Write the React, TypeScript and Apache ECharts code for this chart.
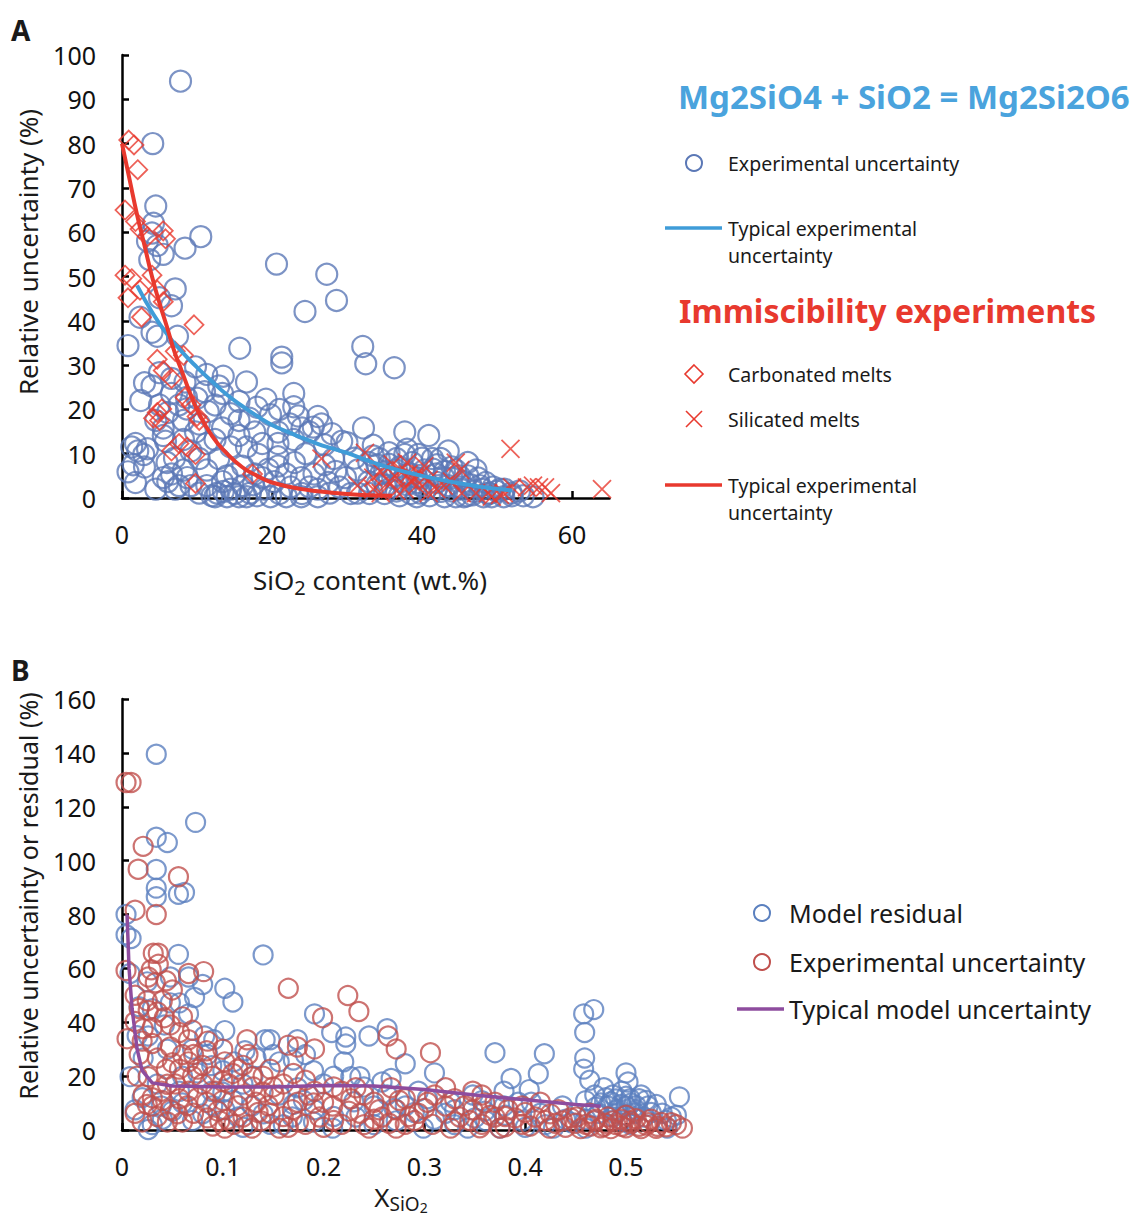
import React, { useEffect, useRef } from "react";
import * as echarts from "echarts";

// ---------- Panel A data ----------
const aExpUncertainty: number[][] = [
  [7.8, 94.1], [4.1, 80], [4.5, 65.9], [4.2, 62], [4.0, 59.8], [3.4, 58], [4.7, 57], [5.5, 55], [3.7, 53.8],
  [8.4, 56.4], [10.5, 59], [20.6, 52.8], [27.3, 50.5], [28.6, 44.6], [24.4, 42.1], [7.1, 47.2], [6.6, 43.4],
  [5.0, 45.2], [0.8, 34.4], [2.4, 40.8], [4.0, 37.4], [4.7, 36.5], [7.4, 36.5], [15.7, 33.8], [21.3, 31.8],
  [21.3, 30.5], [32.1, 34.2], [32.5, 30.3], [36.3, 29.4], [4.0, 25.3], [5.0, 28.3], [6.6, 27.0], [8.4, 26.2],
  [9.8, 29.6], [11.3, 27.9], [12.9, 25.3], [13.4, 23.6], [15.6, 21.8], [16.6, 26.2], [19.2, 22.3], [19.8, 18.8],
  [22.9, 23.6], [22.9, 20.6], [26.1, 18.4], [26.6, 16.7], [24.0, 15.8], [25.0, 14.9], [22.9, 13.2], [20.8, 12.3],
  [17.7, 14.9], [15.6, 14.1], [13.4, 15.8], [10.3, 16.7], [8.2, 17.5], [5.5, 15.8], [5.5, 14.1], [5.0, 21],
  [6.1, 19.3], [1.8, 12.3], [1.3, 11.5], [2.1, 10.6], [2.9, 9.8], [3.4, 11.1], [0.8, 5.9], [1.8, 3.5], [4.5, 2.0],
  [5.5, 4.6], [6.1, 3.7], [7.6, 2.8], [8.7, 4.6], [11.3, 6.3], [12.9, 8.9], [13.4, 3.7], [12.7, 1.1], [14.5, 2.0],
  [16.1, 2.8], [17.1, 1.1], [18.7, 4.6], [20.3, 3.7], [20.8, 7.2], [18.2, 9.8], [20.8, 9.3], [21.9, 5.4],
  [23.9, 4.6], [25.6, 5.4], [26.1, 2.0], [27.7, 1.1], [28.2, 8.9], [29.3, 12.8], [29.8, 4.6], [31.4, 6.3],
  [31.4, 1.1], [32.2, 15.8], [33.5, 11.9], [34.3, 8.9], [35.6, 7.6], [36.6, 6.3], [37.2, 3.7], [37.7, 14.9],
  [38.7, 8.0], [39.3, 4.6], [39.8, 1.1], [40.9, 14.1], [41.4, 8.9], [41.9, 5.4], [43.5, 10.6], [43.5, 2.8],
  [44.5, 6.3], [45.6, 3.7], [46.1, 8.0], [47.2, 6.3], [47.7, 2.8], [48.8, 1.1], [50.4, 2.0], [51.9, 1.1],
  [53.0, 1.6], [54.8, 0.3], [44.5, 0.3], [45.6, 0.3], [46.7, 0.7], [48.2, 0.3], [49.3, 0.3], [50.9, 0.3],
  [44.0, 1.6], [45.1, 2.0], [42.9, 4.6], [46.1, 5.0], [41.9, 2.0], [39.8, 2.8], [40.3, 6.3], [38.2, 5.4],
  [36.1, 4.6], [35.1, 2.8], [34.5, 5.4], [36.6, 1.6], [39.3, 0.3], [32.9, 3.7], [32.9, 8.0], [35.6, 10.2],
  [36.6, 8.9], [37.7, 9.8], [39.5, 9.8], [42.5, 8.9], [12.4, 0.3], [14.0, 0.3], [15.6, 0.3], [16.6, 0.3],
  [19.8, 0.3], [21.9, 0.3], [23.9, 0.3], [26.1, 0.3], [15.0, 5.4], [16.1, 7.2], [17.7, 5.4], [11.3, 2.8],
  [10.3, 1.1], [9.2, 2.8], [7.1, 2.0], [8.2, 6.3], [6.6, 5.4], [10.3, 8.9], [9.2, 10.6], [11.3, 12.3],
  [12.4, 13.2], [14.5, 11.5], [16.6, 11.5], [18.7, 12.3], [20.8, 14.9], [22.4, 16.7], [15.6, 17.5], [12.4, 21],
  [8.6, 22.7], [7.6, 21], [8.6, 20.1], [6.6, 23.6], [4.5, 17.5], [5.8, 12.8], [8.2, 13.2], [9.8, 14.9],
  [34, 3], [35, 1], [36, 2.5], [37, 0.5], [38, 3], [38.5, 1], [39.5, 3.5], [40.5, 2], [41, 0.5], [42, 3.5],
  [42.5, 1.5], [43, 6], [44, 4.5], [45, 2.5], [46, 0.5], [46.5, 3], [47, 1.5], [47.5, 4.5], [48, 2], [48.5, 3.5],
  [49, 1], [49.5, 2.5], [50, 1.5], [51, 2], [52, 0.5], [53.5, 0.5], [43, 0.3], [41.5, 6.5], [40, 9], [38, 11],
  [35, 6], [34, 7.5], [37, 7], [42, 7.5], [45, 5], [44, 7], [33.5, 9.5], [31, 9], [30, 12.5], [28.5, 6],
  [27, 7.5], [27.5, 3.5], [29, 2.5], [30.5, 1], [33, 1], [25, 2.5], [24, 1], [22.5, 2.5], [21, 1], [19, 2],
  [18, 0.5], [17.5, 3], [15, 1], [13.5, 1.5], [12, 0.5], [14, 5], [19.5, 6.5], [23, 8], [24.5, 10], [27, 12],
  [28, 14.5], [25.5, 16], [23.5, 18.5], [21, 20], [18, 20.5], [17, 18], [14.5, 19], [11.5, 19.5], [10, 22.5],
  [11, 24], [13.5, 27.5], [3, 26], [2.5, 22], [6, 8], [3, 7], [1.5, 7.5], [7, 9]
];
const aCarbonated: number[][] = [
  [0.9, 80.8], [1.6, 79.7], [2.1, 74.1], [0.4, 65], [1.8, 62.4], [2.4, 60.7], [3.4, 59], [5.5, 60.3], [5.8, 58.5],
  [0.4, 50.3], [1.3, 49.5], [0.8, 45.2], [2.4, 46.9], [4.0, 50.3], [4.7, 46.9], [2.6, 40.8], [5.5, 44.3],
  [9.6, 39.1], [4.7, 31.3], [5.5, 28.8], [6.6, 27.0], [7.1, 33.1], [8.2, 32.2], [4.2, 18.0], [4.7, 19.3],
  [5.3, 20.1], [5.0, 17.5], [8.4, 22.7], [9.2, 21.0], [10.0, 18.4], [10.3, 17.5], [6.6, 10.6], [7.6, 12.3],
  [8.7, 11.5], [9.8, 9.8], [9.8, 3.3], [17.4, 5.4]
];
const aSilicated: number[][] = [
  [51.8, 11.1], [26.6, 8.9], [32.4, 10.2], [64.0, 2.0], [54.0, 2.4], [54.8, 2.8], [55.6, 2.4], [56.4, 2.4],
  [57.2, 1.1], [52.0, 2.4], [50.9, 1.1], [33.5, 4.6], [34.5, 5.9], [35.6, 3.7], [36.6, 4.6], [37.2, 6.3],
  [38.2, 5.4], [38.5, 3.7], [39.0, 4.6], [39.3, 2.8], [39.8, 5.4], [40.9, 4.1], [41.9, 2.0], [42.9, 2.8],
  [44.0, 3.7], [45.1, 6.3], [45.3, 1.1], [47.2, 1.1], [48.8, 1.1], [36.6, 1.6], [34.5, 1.1], [36.1, 7.6],
  [38.0, 8.0], [37.7, 2.0], [33.5, 2.0], [31.4, 2.8], [40.3, 7.2], [44.5, 8.0], [49.3, 0.3], [50.4, 0.7],
  [40.9, 1.1]
];
const aTypicalBlue: number[][] = [
  [2, 48], [4, 42], [6, 37], [8, 33], [10, 29.5], [12, 26.3], [14, 23.3], [16, 20.8], [18, 18.5], [20, 16.5],
  [22, 15], [24, 13.6], [26, 12.3], [28, 11.2], [30, 10.2], [33, 8.3], [36, 6.7], [40, 5], [44, 3.6], [48, 2.5],
  [52, 1.7]
];
const aTypicalRed: number[][] = [
  [0, 80], [1, 72], [2, 64], [3, 57], [4, 50], [5, 44], [6, 38.6], [7, 33], [8, 28.5], [9, 24], [10, 20],
  [12, 14], [14, 10], [16, 7], [18, 5], [20, 3.5], [24, 2], [28, 1.2], [32, 0.7], [36, 0.5]
];
const aXTicks = [0, 20, 40, 60];

// ---------- Panel B data ----------
const bModelResidual: number[][] = [
  [0.034, 139.5], [0.034, 108.7], [0.045, 106.7], [0.073, 114.2], [0.034, 96.7], [0.034, 89.8], [0.034, 86.6],
  [0.056, 87.5], [0.062, 88.2], [0.004, 80], [0.004, 72.5], [0.009, 71.1], [0.056, 65.2], [0.140, 65],
  [0.008, 58.1], [0.048, 56.8], [0.066, 56.8], [0.080, 54], [0.072, 49.2], [0.066, 43.1], [0.057, 47.2],
  [0.102, 52.6], [0.110, 47.5], [0.191, 43.1], [0.208, 36.2], [0.222, 34.5], [0.222, 31.9], [0.220, 25.3],
  [0.245, 34.9], [0.263, 37.6], [0.281, 24.6], [0.310, 21.2], [0.370, 28.7], [0.386, 19.1], [0.404, 15.0],
  [0.413, 20.9], [0.419, 28.3], [0.458, 43.1], [0.468, 44.7], [0.459, 36.2], [0.459, 26.7], [0.458, 22.6],
  [0.464, 18.5], [0.5, 21.2], [0.502, 17.8], [0.553, 12.3], [0.142, 33.5], [0.147, 33.5], [0.122, 29.4],
  [0.102, 36.9], [0.091, 33.5], [0.082, 34.9], [0.111, 25.3], [0.133, 26.7], [0.156, 25.3], [0.174, 33.5],
  [0.182, 28], [0.200, 17.1], [0.227, 19.8], [0.236, 19.8], [0.258, 17.8], [0.267, 19.1], [0.294, 14.4],
  [0.326, 10.3], [0.348, 13.0], [0.357, 10.9], [0.379, 14.4], [0.393, 10.3], [0.437, 8.9], [0.478, 15.7],
  [0.487, 13], [0.496, 14.4], [0.504, 11.6], [0.513, 11.6], [0.522, 8.9], [0.536, 6.2], [0.545, 4.8],
  [0.482, 8.9], [0.491, 7.5], [0.5, 8.9], [0.509, 6.2], [0.518, 4.8], [0.473, 6.2], [0.487, 4.8], [0.496, 3.4],
  [0.504, 2.1], [0.541, 0.7], [0.026, 0.2], [0.039, 8.9], [0.013, 7.5], [0.008, 19.8], [0.021, 26.7],
  [0.026, 34.9], [0.042, 39], [0.048, 47.2], [0.017, 45.8], [0.035, 17.1], [0.057, 14.4], [0.075, 21.2],
  [0.089, 14.4], [0.102, 7.5], [0.115, 4.8], [0.129, 8.9], [0.147, 2.1], [0.169, 4.8], [0.191, 7.5],
  [0.209, 0.7], [0.232, 4.8], [0.250, 8.9], [0.272, 3.4], [0.299, 0.7], [0.321, 6.2], [0.343, 0.7],
  [0.361, 3.4], [0.375, 0.7], [0.397, 3.4], [0.415, 6.2], [0.428, 0.7], [0.446, 2.7], [0.460, 0.7],
  [0.156, 13], [0.174, 15.7], [0.120, 17.1], [0.089, 23.9], [0.263, 13], [0.281, 8.9], [0.303, 11.6],
  [0.330, 7.5], [0.379, 8.9], [0.406, 10.3], [0.46, 10.9], [0.469, 13],
  [0.475, 10], [0.48, 12], [0.485, 10.5], [0.49, 11.5], [0.495, 9.5], [0.5, 12.5], [0.505, 10], [0.51, 9],
  [0.515, 13], [0.52, 11], [0.49, 6], [0.5, 5.5], [0.51, 7.5], [0.47, 8.5], [0.46, 4], [0.525, 6.5],
  [0.53, 9.5], [0.54, 3.5], [0.55, 5.5], [0.45, 6], [0.44, 4], [0.42, 2], [0.4, 1], [0.38, 5.5], [0.36, 7],
  [0.35, 4.5], [0.33, 2], [0.31, 4], [0.29, 6.5], [0.27, 8], [0.25, 2], [0.23, 10.5], [0.21, 5], [0.19, 3],
  [0.17, 9.5], [0.16, 2], [0.14, 6], [0.12, 1], [0.11, 11], [0.1, 14], [0.09, 9], [0.08, 6], [0.07, 3.5],
  [0.06, 10], [0.05, 7], [0.04, 4], [0.03, 2], [0.02, 12], [0.015, 35], [0.025, 55], [0.03, 45], [0.045, 30],
  [0.06, 20], [0.07, 30], [0.085, 28], [0.1, 22], [0.13, 20], [0.15, 28], [0.17, 26], [0.19, 22], [0.21, 20],
  [0.18, 11], [0.24, 16]
];
const bExpUncertainty: number[][] = [
  [0.004, 129], [0.009, 129], [0.021, 105.3], [0.016, 96.8], [0.056, 94], [0.013, 81.6], [0.034, 80],
  [0.031, 65.6], [0.036, 65.6], [0.004, 59.2], [0.029, 59.5], [0.036, 61.5], [0.066, 58.1], [0.081, 58.8],
  [0.165, 52.6], [0.224, 49.9], [0.235, 44], [0.199, 41.7], [0.005, 33.9], [0.264, 34.9], [0.272, 30.1],
  [0.306, 28.7], [0.165, 31.5], [0.174, 30.8], [0.191, 30.1], [0.124, 33.5], [0.013, 50], [0.026, 56.8],
  [0.033, 54.7], [0.044, 55.4], [0.017, 45.1], [0.026, 44.4], [0.035, 43.8], [0.042, 41.7], [0.048, 39],
  [0.057, 36.2], [0.021, 37.6], [0.013, 40.3], [0.030, 32.1], [0.048, 30.8], [0.066, 33.5], [0.071, 28],
  [0.084, 29.4], [0.066, 25.3], [0.057, 22.6], [0.075, 22.6], [0.102, 25.3], [0.115, 22.6], [0.129, 19.8],
  [0.147, 22.6], [0.160, 17.1], [0.182, 18.5], [0.191, 14.4], [0.218, 14.4], [0.232, 15.7], [0.250, 10.3],
  [0.267, 15.7], [0.281, 11.6], [0.321, 15.7], [0.348, 14.4], [0.357, 13], [0.370, 10.3], [0.433, 7.5],
  [0.013, 6.2], [0.021, 13], [0.030, 8.9], [0.039, 14.4], [0.048, 7.5], [0.057, 11.6], [0.071, 6.2],
  [0.084, 10.3], [0.097, 3.4], [0.102, 0.7], [0.111, 2.1], [0.120, 4.8], [0.129, 0.7], [0.138, 3.4],
  [0.147, 6.2], [0.156, 0.7], [0.169, 7.5], [0.182, 2.1], [0.196, 4.8], [0.209, 8.9], [0.218, 2.1],
  [0.236, 6.2], [0.245, 0.7], [0.258, 4.8], [0.272, 7.5], [0.281, 2.1], [0.294, 6.2], [0.308, 2.1],
  [0.321, 8.9], [0.335, 4.8], [0.348, 7.5], [0.357, 2.1], [0.370, 4.8], [0.383, 7.5], [0.397, 2.1],
  [0.410, 4.8], [0.424, 0.7], [0.437, 3.4], [0.451, 4.8], [0.460, 2.1], [0.469, 3.4], [0.478, 1.4],
  [0.487, 3.4], [0.496, 1.4], [0.504, 3.4], [0.513, 1.4], [0.522, 2.7], [0.531, 1.4], [0.545, 2.7],
  [0.556, 0.7], [0.482, 4.8], [0.5, 5.5], [0.464, 6.2], [0.026, 19.8], [0.044, 22.6], [0.017, 28],
  [0.035, 26.7], [0.053, 17.1], [0.066, 14.4], [0.080, 17.1], [0.093, 14.4], [0.106, 17.1], [0.120, 13],
  [0.133, 10.3], [0.151, 13], [0.174, 10.3], [0.200, 10.3], [0.227, 11.6], [0.303, 10.3], [0.330, 11.6],
  [0.397, 8.9], [0.415, 10.3], [0.272, 0.7], [0.326, 0.7], [0.375, 0.7],
  [0.44, 1], [0.45, 2.5], [0.455, 0.5], [0.465, 1.5], [0.47, 4], [0.475, 0.8], [0.48, 2.5], [0.485, 0.5],
  [0.49, 2], [0.495, 4], [0.5, 0.8], [0.505, 2.5], [0.51, 4.2], [0.515, 0.5], [0.52, 1.8], [0.525, 4],
  [0.53, 0.6], [0.535, 2.8], [0.54, 1.2], [0.55, 2], [0.445, 4.5], [0.43, 2.5], [0.42, 3.5], [0.405, 1.5],
  [0.39, 4.5], [0.38, 1.2], [0.365, 5.5], [0.355, 0.8], [0.345, 3.5], [0.34, 9], [0.36, 10], [0.38, 5],
  [0.29, 3.5], [0.3, 8], [0.285, 5], [0.265, 2.5], [0.25, 4], [0.24, 2], [0.225, 7], [0.21, 3.5], [0.2, 1],
  [0.19, 10], [0.175, 3], [0.165, 1], [0.16, 5], [0.145, 9], [0.135, 6.5], [0.125, 2], [0.115, 9], [0.105, 4],
  [0.1, 11], [0.095, 7], [0.09, 1.5], [0.085, 4.5], [0.075, 12], [0.065, 9], [0.06, 3], [0.055, 6], [0.045, 3],
  [0.04, 11], [0.035, 5], [0.03, 12], [0.025, 9.5], [0.02, 3], [0.045, 17], [0.05, 25], [0.06, 28], [0.07, 20],
  [0.08, 24], [0.09, 20], [0.1, 18], [0.11, 21], [0.12, 24], [0.13, 16], [0.14, 20], [0.025, 48], [0.04, 48],
  [0.05, 52], [0.03, 38], [0.02, 33], [0.015, 20], [0.06, 42], [0.07, 37], [0.085, 33], [0.1, 30], [0.125, 28],
  [0.14, 14], [0.15, 16], [0.17, 21], [0.185, 13], [0.21, 16], [0.24, 13], [0.255, 7.5], [0.275, 11],
  [0.31, 13], [0.33, 3], [0.4, 6.5], [0.425, 6]
];
const bTypicalModel: number[][] = [
  [0.005, 80], [0.007, 60], [0.01, 45], [0.015, 30], [0.02, 22], [0.03, 17.5], [0.05, 16.3], [0.1, 16],
  [0.15, 16], [0.2, 16.5], [0.25, 16.3], [0.3, 15], [0.35, 13], [0.4, 11.2], [0.45, 9.5], [0.475, 8.8]
];
const bXTicks = [0, 0.1, 0.2, 0.3, 0.4, 0.5];

// ---------- colours ----------
const A_BLUE = "#5b78b6";
const A_RED = "#e8392e";
const A_LINE_BLUE = "#3f9cd8";
const B_BLUE = "#5b80bf";
const B_RED = "#c0504d";
const B_PURPLE = "#8e4c9e";
const FONT = "Noto Sans";

const CROSS = "path://M0,0L10,10M10,0L0,10";

export default function App() {
  const ref = useRef<HTMLDivElement>(null);
  useEffect(() => {
    document.body.style.margin = "0";
    const chart = echarts.init(ref.current!, null, { renderer: "svg" });
    const axisLine = { show: true, onZero: false, lineStyle: { color: "#000", width: 2.5 } };
    const axisLabelStyle = { color: "#111", fontSize: 25, fontFamily: FONT };
    const tick = { show: true, inside: true, length: 7, lineStyle: { color: "#000", width: 2.5 } };
    const txt = (x: number, y: number, text: string, size: number, extra: any = {}) => ({
      type: "text",
      x,
      y,
      style: { text, fontSize: size, fontFamily: FONT, fill: "#1a1a1a", verticalAlign: "middle", ...extra },
    });
    const option: any = {
      animation: false,
      backgroundColor: "#fff",
      grid: [
        { left: 122, top: 55, width: 487.5, height: 443 },
        { left: 122, top: 699, width: 554.4, height: 431 },
      ],
      xAxis: [
        {
          gridIndex: 0, type: "value", min: 0, max: 65, interval: 20,
          axisLine, splitLine: { show: false },
          axisTick: { ...tick, customValues: aXTicks },
          axisLabel: { ...axisLabelStyle, margin: 23, customValues: aXTicks },
        },
        {
          gridIndex: 1, type: "value", min: 0, max: 0.55, interval: 0.1,
          axisLine, splitLine: { show: false },
          axisTick: { ...tick, customValues: bXTicks },
          axisLabel: { ...axisLabelStyle, margin: 23, customValues: bXTicks },
        },
      ],
      yAxis: [
        {
          gridIndex: 0, type: "value", min: 0, max: 100, interval: 10,
          axisLine, splitLine: { show: false }, axisTick: tick,
          axisLabel: { ...axisLabelStyle, margin: 26 },
        },
        {
          gridIndex: 1, type: "value", min: 0, max: 160, interval: 20,
          axisLine, splitLine: { show: false }, axisTick: tick,
          axisLabel: { ...axisLabelStyle, margin: 26 },
        },
      ],
      series: [
        {
          name: "Experimental uncertainty", type: "scatter", xAxisIndex: 0, yAxisIndex: 0, data: aExpUncertainty,
          symbol: "circle", symbolSize: 21, clip: false,
          itemStyle: { color: "rgba(0,0,0,0)", borderColor: A_BLUE, borderWidth: 2.2 },
        },
        {
          name: "Carbonated melts", type: "scatter", xAxisIndex: 0, yAxisIndex: 0, data: aCarbonated,
          symbol: "diamond", symbolSize: 19, clip: false,
          itemStyle: { color: "rgba(0,0,0,0)", borderColor: A_RED, borderWidth: 1.8 },
        },
        {
          name: "Silicated melts", type: "scatter", xAxisIndex: 0, yAxisIndex: 0, data: aSilicated,
          symbol: CROSS, symbolSize: 18, clip: false,
          itemStyle: { color: "rgba(0,0,0,0)", borderColor: A_RED, borderWidth: 1.8 },
        },
        {
          name: "Typical experimental uncertainty (blue)", type: "line", xAxisIndex: 0, yAxisIndex: 0,
          data: aTypicalBlue, smooth: true, showSymbol: false, symbol: "none",
          lineStyle: { color: A_LINE_BLUE, width: 4 },
        },
        {
          name: "Typical experimental uncertainty (red)", type: "line", xAxisIndex: 0, yAxisIndex: 0,
          data: aTypicalRed, smooth: true, showSymbol: false, symbol: "none",
          lineStyle: { color: A_RED, width: 4 },
        },
        {
          name: "Model residual", type: "scatter", xAxisIndex: 1, yAxisIndex: 1, data: bModelResidual,
          symbol: "circle", symbolSize: 19, clip: false,
          itemStyle: { color: "rgba(0,0,0,0)", borderColor: B_BLUE, borderWidth: 2.2 },
        },
        {
          name: "Typical model uncertainty", type: "line", xAxisIndex: 1, yAxisIndex: 1,
          data: bTypicalModel, smooth: false, showSymbol: false, symbol: "none",
          lineStyle: { color: B_PURPLE, width: 3.5 },
        },
        {
          name: "Experimental uncertainty B", type: "scatter", xAxisIndex: 1, yAxisIndex: 1, data: bExpUncertainty,
          symbol: "circle", symbolSize: 19, clip: false,
          itemStyle: { color: "rgba(0,0,0,0)", borderColor: B_RED, borderWidth: 2.2 },
        },
      ],
      graphic: [
        txt(11, 30, "A", 28, { fontWeight: "bold" }),
        txt(11, 670, "B", 28, { fontWeight: "bold" }),
        {
          type: "text", x: 28, y: 252, rotation: Math.PI / 2,
          style: { text: "Relative uncertainty (%)", fontSize: 26, fontFamily: FONT, fill: "#1a1a1a", align: "center", verticalAlign: "middle" },
        },
        {
          type: "text", x: 28, y: 896, rotation: Math.PI / 2,
          style: { text: "Relative uncertainty or residual (%)", fontSize: 25, fontFamily: FONT, fill: "#1a1a1a", align: "center", verticalAlign: "middle" },
        },
        {
          type: "text", x: 370, y: 584,
          style: {
            text: "{a|SiO}{b|2}{a| content (wt.%)}", align: "center", verticalAlign: "middle",
            rich: {
              a: { fontSize: 26, fontFamily: FONT, fill: "#1a1a1a", lineHeight: 34, verticalAlign: "top" },
              b: { fontSize: 20, fontFamily: FONT, fill: "#1a1a1a", lineHeight: 26, padding: [10, 0, 0, 0], verticalAlign: "top" },
            },
          },
        },
        {
          type: "text", x: 401, y: 1201,
          style: {
            text: "{a|X}{b|SiO}{c|2}", align: "center", verticalAlign: "middle",
            rich: {
              a: { fontSize: 26, fontFamily: FONT, fill: "#1a1a1a", lineHeight: 34, verticalAlign: "top" },
              b: { fontSize: 19, fontFamily: FONT, fill: "#1a1a1a", lineHeight: 24, padding: [10, 0, 0, 0], verticalAlign: "top" },
              c: { fontSize: 14, fontFamily: FONT, fill: "#1a1a1a", lineHeight: 17, padding: [16, 0, 0, 0], verticalAlign: "top" },
            },
          },
        },
        // Legend A
        txt(678, 96, "Mg2SiO4 + SiO2 = Mg2Si2O6", 33, { fontWeight: "bold", fill: "#4aa3dd" }),
        { type: "circle", shape: { cx: 694, cy: 163, r: 8 }, style: { fill: "none", stroke: A_BLUE, lineWidth: 2 } },
        txt(728, 163, "Experimental uncertainty", 19.5),
        { type: "line", shape: { x1: 665, y1: 228, x2: 722, y2: 228 }, style: { stroke: A_LINE_BLUE, lineWidth: 3.5 } },
        txt(728, 228, "Typical experimental", 19.5),
        txt(728, 255, "uncertainty", 19.5),
        txt(679, 310, "Immiscibility experiments", 32, { fontWeight: "bold", fill: A_RED }),
        {
          type: "polygon", shape: { points: [[694, 365], [703, 374], [694, 383], [685, 374]] },
          style: { fill: "none", stroke: A_RED, lineWidth: 1.6 },
        },
        txt(728, 374, "Carbonated melts", 19.5),
        { type: "line", shape: { x1: 686, y1: 411, x2: 702, y2: 427 }, style: { stroke: A_RED, lineWidth: 1.6 } },
        { type: "line", shape: { x1: 702, y1: 411, x2: 686, y2: 427 }, style: { stroke: A_RED, lineWidth: 1.6 } },
        txt(728, 419, "Silicated melts", 19.5),
        { type: "line", shape: { x1: 665, y1: 485, x2: 722, y2: 485 }, style: { stroke: A_RED, lineWidth: 3.5 } },
        txt(728, 485, "Typical experimental", 19.5),
        txt(728, 512, "uncertainty", 19.5),
        // Legend B
        { type: "circle", shape: { cx: 762, cy: 913, r: 8 }, style: { fill: "none", stroke: B_BLUE, lineWidth: 2 } },
        txt(789, 913, "Model residual", 25),
        { type: "circle", shape: { cx: 762, cy: 962, r: 8 }, style: { fill: "none", stroke: B_RED, lineWidth: 2 } },
        txt(789, 962, "Experimental uncertainty", 25),
        { type: "line", shape: { x1: 737, y1: 1009, x2: 784, y2: 1009 }, style: { stroke: B_PURPLE, lineWidth: 3.5 } },
        txt(789, 1009, "Typical model uncertainty", 25),
      ],
    };
    chart.setOption(option);
    return () => chart.dispose();
  }, []);
  return <div ref={ref} style={{ width: 1142, height: 1226 }} />;
}
